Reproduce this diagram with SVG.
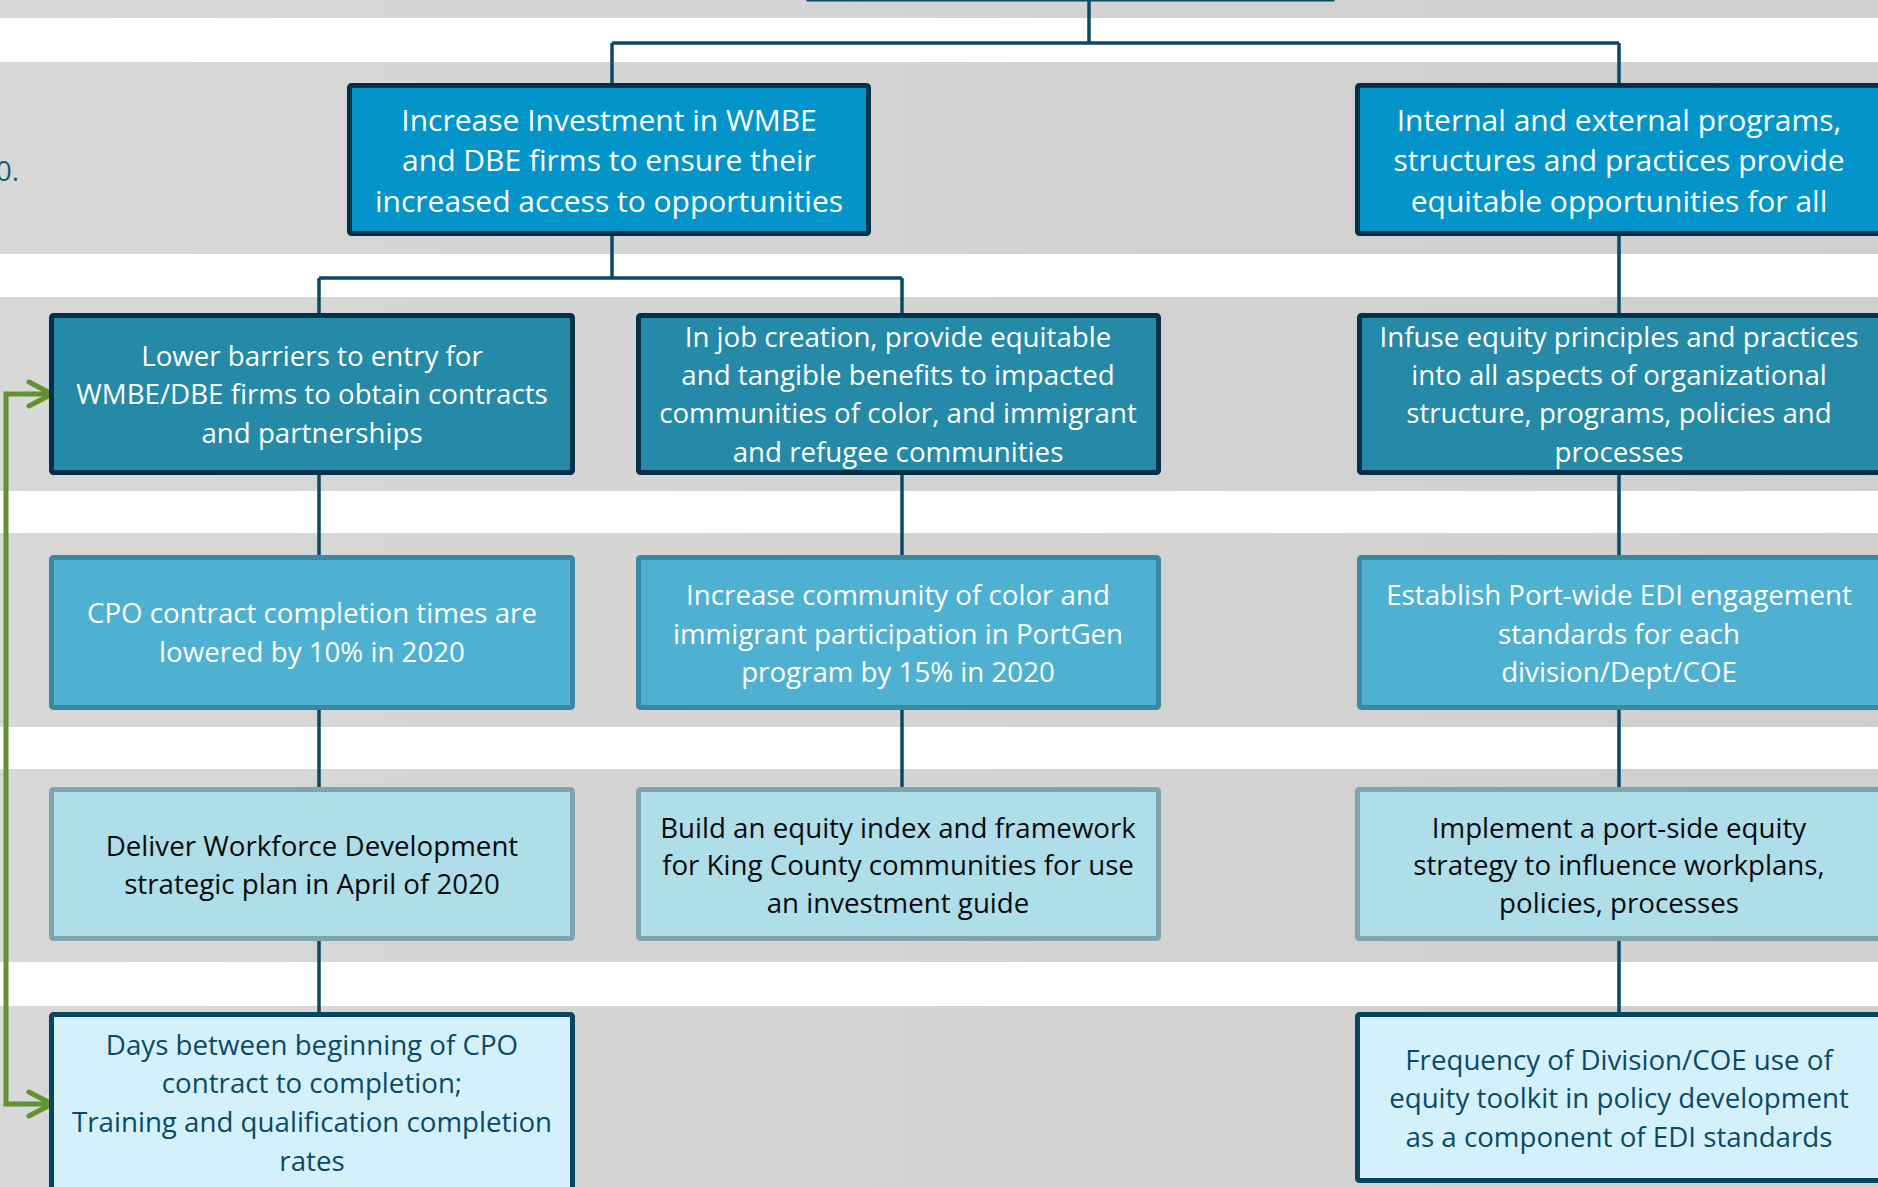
<svg xmlns="http://www.w3.org/2000/svg" width="1878" height="1187" viewBox="0 0 1878 1187">
<defs>
<linearGradient id="bandGrad" x1="0" y1="0" x2="1" y2="0">
<stop offset="0" stop-color="#D8D8D8"/>
<stop offset="1" stop-color="#CFCFCF"/>
</linearGradient>
<marker id="chev" viewBox="0 0 30 30" markerWidth="30" markerHeight="30" refX="26" refY="15" orient="auto-start-reverse" markerUnits="userSpaceOnUse">
<path d="M3,3 L26,15 L3,27" fill="none" stroke="#62922F" stroke-width="5" stroke-linecap="round" stroke-linejoin="round"/>
</marker>
</defs>
<style>
.band{fill:url(#bandGrad);}
.lvl1 rect{fill:#0395CA;stroke:#01304A;stroke-width:5;}
.lvl2 rect{fill:#2589A8;stroke:#04304A;stroke-width:5;}
.lvl3 rect{fill:#4FB1D1;stroke:#3A88A1;stroke-width:5;}
.lvl4 rect{fill:#AEDEEA;stroke:#7FA4AE;stroke-width:5;}
.lvl5 rect{fill:#D4F1FB;stroke:#08465F;stroke-width:5;}
text{font-family:"Open Sans","Noto Sans","Liberation Sans",sans-serif;text-anchor:middle;}
.lvl1 text{font-size:30px;fill:#FFFFFF;}
.lvl2 text,.lvl3 text{font-size:27.7px;fill:#FFFFFF;}
.lvl4 text{font-size:27.7px;fill:#0A0A0A;}
.lvl5 text{font-size:27.7px;fill:#0B4A66;}
.conn{fill:none;stroke:#0C4963;stroke-width:3.5;}
.green{fill:none;stroke:#62922F;stroke-width:5;marker-start:url(#chev);marker-end:url(#chev);}
.side{font-size:28px;fill:#1B5A78;text-anchor:end;}
</style>
<rect width="1878" height="1187" fill="#FFFFFF"/>
<g id="bands">
<rect class="band" x="0" y="0" width="1878" height="18"/>
<rect class="band" x="0" y="62" width="1878" height="192"/>
<rect class="band" x="0" y="297" width="1878" height="194"/>
<rect class="band" x="0" y="533" width="1878" height="194"/>
<rect class="band" x="0" y="769" width="1878" height="193"/>
<rect class="band" x="0" y="1006" width="1878" height="181"/>
</g>
<text class="side" x="19" y="181">0.</text>
<g id="connectors">
<path class="conn" d="M1089,0 V43 M612,43 H1619 M612,43 V85 M1619,43 V85"/>
<path class="conn" d="M612,236 V278 M319,278 H902 M319,278 V315 M902,278 V315"/>
<path class="conn" d="M319,475 V557 M319,710 V789 M319,941 V1014"/>
<path class="conn" d="M902,475 V557 M902,710 V789"/>
<path class="conn" d="M1619,236 V315 M1619,475 V557 M1619,710 V789 M1619,941 V1014"/>
<path class="green" d="M52,394 H6 V1104 H52"/>
</g>
<g id="node-root">
<rect x="808" y="-60" width="525" height="60" fill="#0395CA" stroke="#0C4963" stroke-width="3"/>
</g>
<g id="node-goal-wmbe" class="lvl1">
<rect x="349.5" y="85.5" width="519" height="148" rx="2"/>
<text><tspan x="609" y="131">Increase Investment in WMBE</tspan><tspan x="609" y="171">and DBE firms to ensure their</tspan><tspan x="609" y="212">increased access to opportunities</tspan></text>
</g>
<g id="node-goal-programs" class="lvl1">
<rect x="1357.5" y="85.5" width="524" height="148" rx="2"/>
<text><tspan x="1619" y="131">Internal and external programs,</tspan><tspan x="1619" y="171">structures and practices provide</tspan><tspan x="1619" y="212">equitable opportunities for all</tspan></text>
</g>
<g id="node-lower-barriers" class="lvl2">
<rect x="51.5" y="315.5" width="521" height="157" rx="2"/>
<text><tspan x="312" y="366">Lower barriers to entry for</tspan><tspan x="312" y="404">WMBE/DBE firms to obtain contracts</tspan><tspan x="312" y="443">and partnerships</tspan></text>
</g>
<g id="node-job-creation" class="lvl2">
<rect x="638.5" y="315.5" width="520" height="157" rx="2"/>
<text><tspan x="898" y="347">In job creation, provide equitable</tspan><tspan x="898" y="385">and tangible benefits to impacted</tspan><tspan x="898" y="423">communities of color, and immigrant</tspan><tspan x="898" y="462">and refugee communities</tspan></text>
</g>
<g id="node-infuse-equity" class="lvl2">
<rect x="1359.5" y="315.5" width="521" height="157" rx="2"/>
<text><tspan x="1619" y="347">Infuse equity principles and practices</tspan><tspan x="1619" y="385">into all aspects of organizational</tspan><tspan x="1619" y="423">structure, programs, policies and</tspan><tspan x="1619" y="462">processes</tspan></text>
</g>
<g id="node-cpo-times" class="lvl3">
<rect x="51.5" y="557.5" width="521" height="150" rx="2"/>
<text><tspan x="312" y="623">CPO contract completion times are</tspan><tspan x="312" y="662">lowered by 10% in 2020</tspan></text>
</g>
<g id="node-portgen" class="lvl3">
<rect x="638.5" y="557.5" width="520" height="150" rx="2"/>
<text><tspan x="898" y="605">Increase community of color and</tspan><tspan x="898" y="644">immigrant participation in PortGen</tspan><tspan x="898" y="682">program by 15% in 2020</tspan></text>
</g>
<g id="node-edi-standards" class="lvl3">
<rect x="1359.5" y="557.5" width="521" height="150" rx="2"/>
<text><tspan x="1619" y="605">Establish Port-wide EDI engagement</tspan><tspan x="1619" y="644">standards for each</tspan><tspan x="1619" y="682">division/Dept/COE</tspan></text>
</g>
<g id="node-workforce-plan" class="lvl4">
<rect x="51.5" y="789.5" width="521" height="149" rx="2"/>
<text><tspan x="312" y="856">Deliver Workforce Development</tspan><tspan x="312" y="894">strategic plan in April of 2020</tspan></text>
</g>
<g id="node-equity-index" class="lvl4">
<rect x="638.5" y="789.5" width="520" height="149" rx="2"/>
<text><tspan x="898" y="838">Build an equity index and framework</tspan><tspan x="898" y="875">for King County communities for use</tspan><tspan x="898" y="913">an investment guide</tspan></text>
</g>
<g id="node-port-side-strategy" class="lvl4">
<rect x="1357.5" y="789.5" width="524" height="149" rx="2"/>
<text><tspan x="1619" y="838">Implement a port-side equity</tspan><tspan x="1619" y="875">strategy to influence workplans,</tspan><tspan x="1619" y="913">policies, processes</tspan></text>
</g>
<g id="node-days-cpo" class="lvl5">
<rect x="51.5" y="1014.5" width="521" height="190" rx="2"/>
<text><tspan x="312" y="1055">Days between beginning of CPO</tspan><tspan x="312" y="1093">contract to completion;</tspan><tspan x="312" y="1132">Training and qualification completion</tspan><tspan x="312" y="1171">rates</tspan></text>
</g>
<g id="node-toolkit-frequency" class="lvl5">
<rect x="1357.5" y="1014.5" width="524" height="166" rx="2"/>
<text><tspan x="1619" y="1070">Frequency of Division/COE use of</tspan><tspan x="1619" y="1108">equity toolkit in policy development</tspan><tspan x="1619" y="1147">as a component of EDI standards</tspan></text>
</g>
</svg>
